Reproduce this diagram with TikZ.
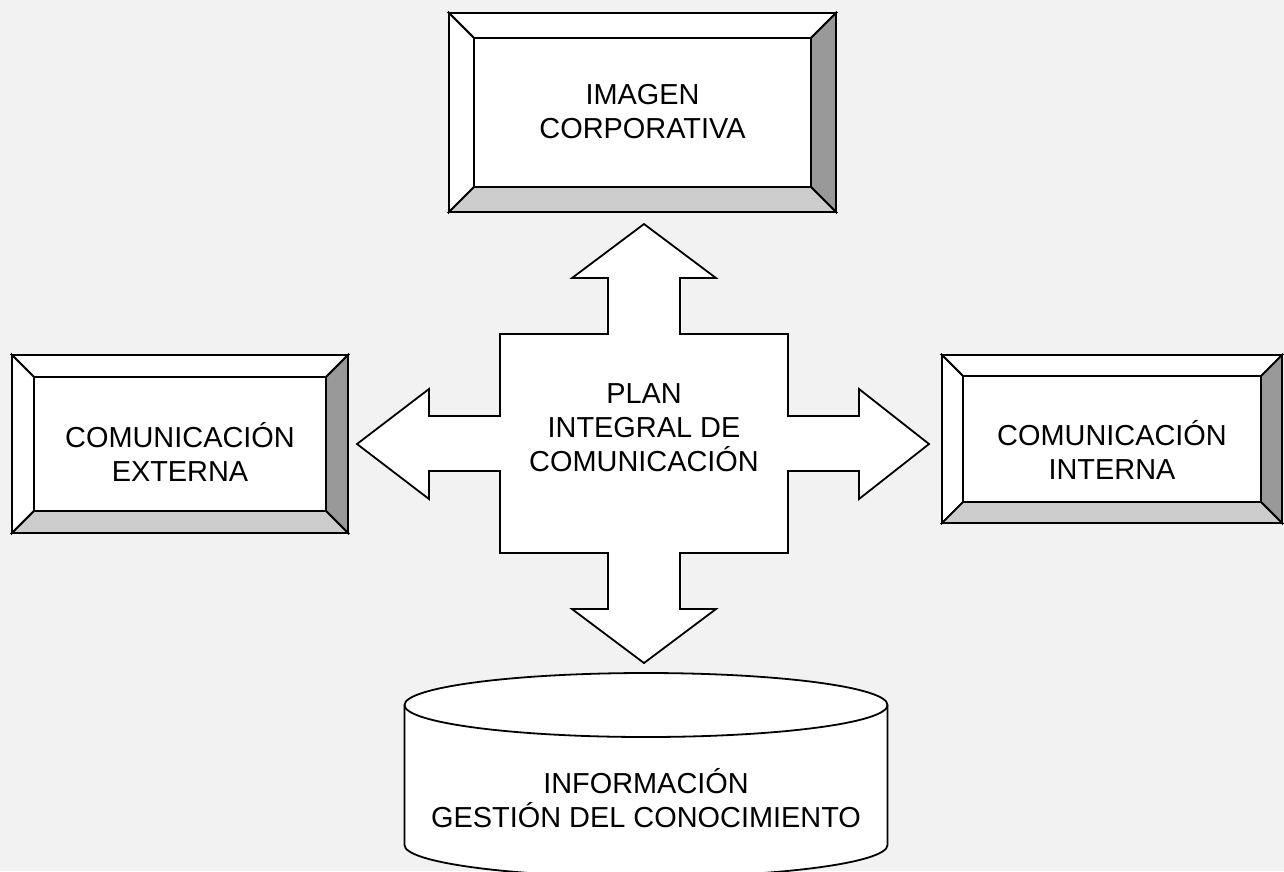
\documentclass[tikz,border=0pt]{standalone}
\usepackage{fontspec}
\setmainfont{Liberation Sans}
\usetikzlibrary{calc,fit}
\definecolor{paper}{HTML}{F2F2F2}
\definecolor{facedark}{HTML}{999999}
\definecolor{facelight}{HTML}{CCCCCC}

\begin{document}
\begin{tikzpicture}[
  x=1pt, y=-1pt,
  line width=1.8pt, line join=miter,
  face/.style={draw=black, fill=white},
  boxtext/.style={align=center, font=\fontsize{28.9}{34}\selectfont, inner sep=0pt},
]
\useasboundingbox[fill=paper] (0,0) rectangle (1284,871);

% bevelled boxes: name / outer corners / bevel width / text centre / text
\foreach \nm/\xa/\ya/\xb/\yb/\bw/\ty/\txt in {
    img/449/13/836/212/25/111.5/{IMAGEN\\CORPORATIVA},
    ext/12/355/348/533/22/451.5/{COMUNICACIÓN\\EXTERNA},
    int/942/355/1282/523/21/450/{COMUNICACIÓN\\INTERNA}}{
  \draw[face] (\xa,\ya) -- (\xb,\ya) -- ($(\xb,\ya)+(-\bw,\bw)$) -- ($(\xa,\ya)+(\bw,\bw)$) -- cycle;
  \draw[face] (\xa,\ya) -- ($(\xa,\ya)+(\bw,\bw)$) -- ($(\xa,\yb)+(\bw,-\bw)$) -- (\xa,\yb) -- cycle;
  \draw[face, fill=facedark] (\xb,\ya) -- (\xb,\yb) -- ($(\xb,\yb)+(-\bw,-\bw)$) -- ($(\xb,\ya)+(-\bw,\bw)$) -- cycle;
  \draw[face, fill=facelight] (\xa,\yb) -- (\xb,\yb) -- ($(\xb,\yb)+(-\bw,-\bw)$) -- ($(\xa,\yb)+(\bw,-\bw)$) -- cycle;
  \node[face, inner sep=0pt, fit={($(\xa,\ya)+(\bw,\bw)$) ($(\xb,\yb)+(-\bw,-\bw)$)}] (\nm) {};
  \node[boxtext] (\nm-text) at (\nm.center |- 0,\ty) {\txt};
}

% four-way arrow
\draw[face] (644,224) -- (716,278) -- (680,278) -- (680,334) -- (788,334) -- (788,416)
  -- (859,416) -- (859,389) -- (929,444) -- (859,499) -- (859,471) -- (788,471)
  -- (788,553) -- (680,553) -- (680,609) -- (716,609) -- (644,663) -- (572,609)
  -- (608,609) -- (608,553) -- (500,553) -- (500,471) -- (429,471) -- (429,499)
  -- (357,444) -- (429,389) -- (429,416) -- (500,416) -- (500,334) -- (608,334)
  -- (608,278) -- (572,278) -- cycle;
\node[boxtext] (plan) at (644,428) {PLAN\\INTEGRAL DE\\COMUNICACIÓN};

% database
\draw[face] (404.5,705) -- (404.5,845)
  arc[start angle=180, end angle=360, x radius=241.5pt, y radius=32pt]
  -- (887.5,705)
  arc[start angle=0, end angle=180, x radius=241.5pt, y radius=32pt] -- cycle;
\draw (404.5,705) arc[start angle=180, end angle=360, x radius=241.5pt, y radius=32pt];
\node[boxtext] (info) at (646,798) {INFORMACIÓN\\GESTIÓN DEL CONOCIMIENTO};
\end{tikzpicture}
\end{document}
